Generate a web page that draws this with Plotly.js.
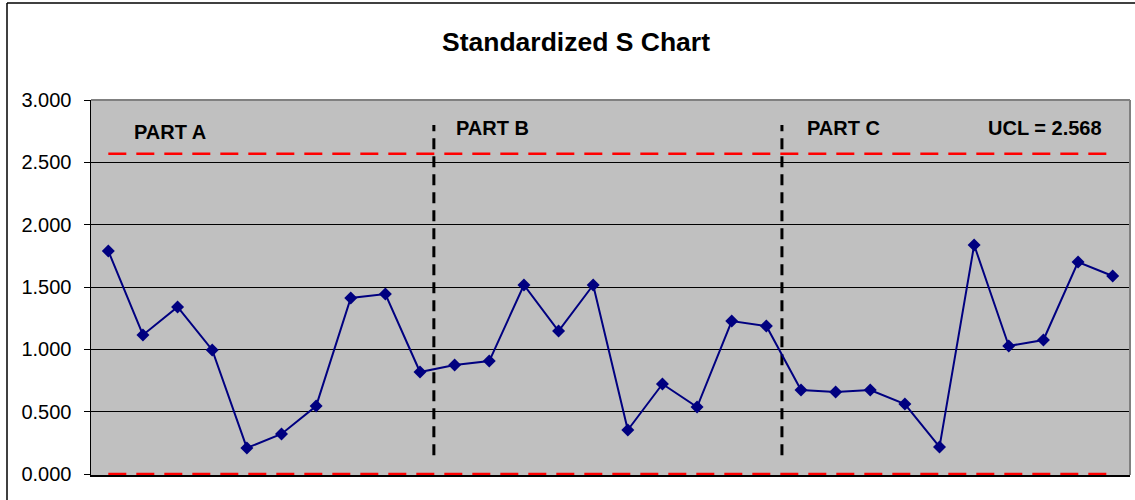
<!DOCTYPE html>
<html>
<head>
<meta charset="utf-8">
<script src="https://cdn.plot.ly/plotly-3.0.1.min.js"></script>
<style>
  html, body { margin: 0; padding: 0; background: #ffffff; }
  #chart { width: 1135px; height: 500px; }
</style>
</head>
<body>
<div id="chart"></div>
<script>
// Standardized S values for each subgroup (parts A, B and C in sequence)
const subgroups = Array.from({length: 30}, (_, i) => i + 1);
const sValues = [
  1.789, 1.115, 1.340, 0.995, 0.209, 0.321, 0.545, 1.412, 1.444, 0.818,
  0.874, 0.906, 1.516, 1.147, 1.516, 0.353, 0.722, 0.537, 1.227, 1.187,
  0.674, 0.658, 0.674, 0.561, 0.217, 1.837, 1.027, 1.075, 1.700, 1.588
];
// Control limits
const UCL = 2.568;
const LCL = 0.0;
// Boundaries between parts, and the labels of each part
const partBreaks = [10.4, 20.45];
const partBreakSpan = [0.15, 2.80];
const partLabels = ['PART A', 'PART B', 'PART C'];
const partLabelX = [1.68, 10.98, 21.12];
const yTicks = [0, 0.5, 1, 1.5, 2, 2.5, 3];

const FONT = 'Arial, "Liberation Sans", sans-serif';
const first = subgroups[0], last = subgroups[subgroups.length - 1];

const traces = [];
// control limit lines
traces.push({
  x: [first, last], y: [UCL, UCL], mode: 'lines', hoverinfo: 'skip',
  line: {color: '#ff0000', width: 2.5, dash: '18px,10px'}
});
traces.push({
  x: [first, last], y: [LCL, LCL], mode: 'lines', hoverinfo: 'skip',
  line: {color: '#ff0000', width: 2.5, dash: '18px,10px'}
});
// part separators
partBreaks.forEach(b => traces.push({
  x: [b, b], y: partBreakSpan, mode: 'lines', hoverinfo: 'skip',
  line: {color: '#000000', width: 3, dash: '11px,7px'}
}));
// the S series
traces.push({
  x: subgroups, y: sValues, mode: 'lines+markers',
  line: {color: '#000080', width: 2},
  marker: {symbol: 'diamond', size: 10, color: '#000080'},
  cliponaxis: false
});

// plot area spans 91..1130 px horizontally, 100..475 px vertically
const pw = 1039, ph = 375;
const annotations = partLabels.map((t, i) => ({
  x: partLabelX[i], y: i === 0 ? 2.746 : 2.775, xref: 'x', yref: 'y',
  text: '<b>' + t + '</b>', showarrow: false, xanchor: 'left', yanchor: 'middle',
  font: {family: FONT, size: 20, color: '#000000'}
}));
annotations.push({
  x: 29.75, y: 2.775, xref: 'x', yref: 'y',
  text: '<b>UCL = ' + UCL.toFixed(3) + '</b>', showarrow: false,
  xanchor: 'right', yanchor: 'middle',
  font: {family: FONT, size: 20, color: '#000000'}
});

const layout = {
  width: 1135, height: 500,
  margin: {l: 91, r: 5, t: 100, b: 25, pad: 0},
  paper_bgcolor: '#ffffff', plot_bgcolor: '#c0c0c0',
  showlegend: false,
  title: {
    text: '<b>Standardized S Chart</b>',
    x: 576 / 1135, xref: 'container', xanchor: 'center',
    y: 1 - 42 / 500, yref: 'container', yanchor: 'middle',
    font: {family: FONT, size: 26.5, color: '#000000'}
  },
  xaxis: {
    range: [0.5, 30.5], showticklabels: false, ticks: '', showgrid: false,
    zeroline: false, showline: true, linecolor: '#000000', linewidth: 1.5,
    layer: 'below traces', fixedrange: true
  },
  yaxis: {
    range: [-0.008, 3], tickvals: yTicks, tickformat: '.3f',
    ticks: 'outside', ticklen: 6, tickcolor: '#000000', tickwidth: 1,
    ticklabelstandoff: 8,
    showgrid: true, gridcolor: '#000000', gridwidth: 1, zeroline: false,
    showline: true, linecolor: '#000000', linewidth: 1.5,
    tickfont: {family: FONT, size: 20, color: '#000000'},
    layer: 'below traces', fixedrange: true
  },
  annotations: annotations,
  shapes: [
    // top and right edges of the plot area
    {type: 'line', xref: 'paper', yref: 'paper', x0: 0, x1: 1, y0: 1, y1: 1,
     line: {color: '#808080', width: 2}},
    {type: 'line', xref: 'paper', yref: 'paper', x0: 1, x1: 1, y0: 0, y1: 1,
     line: {color: '#808080', width: 2}},
    // chart-area frame
    {type: 'line', xref: 'paper', yref: 'paper',
     x0: (7 - 91) / pw, x1: (1140 - 91) / pw, y0: (475 - 3) / ph, y1: (475 - 3) / ph,
     line: {color: '#000000', width: 1.5}},
    {type: 'line', xref: 'paper', yref: 'paper',
     x0: (7 - 91) / pw, x1: (7 - 91) / pw, y0: (475 - 3) / ph, y1: (475 - 510) / ph,
     line: {color: '#000000', width: 1.5}}
  ]
};

Plotly.newPlot('chart', traces, layout, {displayModeBar: false, staticPlot: true});
</script>
</body>
</html>
